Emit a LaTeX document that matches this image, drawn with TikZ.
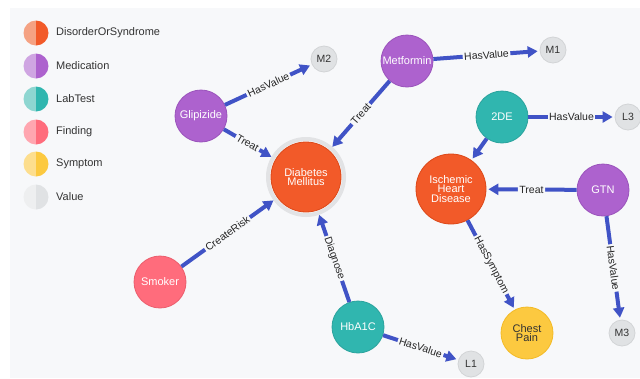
\documentclass[tikz,border=0pt]{standalone}
\usepackage{fontspec}
\setmainfont{Liberation Sans}
\usetikzlibrary{arrows.meta}
\definecolor{bg}{HTML}{F7F8FA}
\definecolor{cDis}{HTML}{F25A29}\definecolor{cDisB}{HTML}{DC4717}\definecolor{cDisL}{HTML}{F5A283}
\definecolor{cMed}{HTML}{AD62CE}\definecolor{cMedB}{HTML}{9A53BB}\definecolor{cMedL}{HTML}{CFA5E2}
\definecolor{cLab}{HTML}{30B6AF}\definecolor{cLabB}{HTML}{2AA39D}\definecolor{cLabL}{HTML}{8ED6D1}
\definecolor{cFin}{HTML}{FF6C7C}\definecolor{cFinB}{HTML}{EB5D6C}\definecolor{cFinL}{HTML}{FFA6B0}
\definecolor{cSym}{HTML}{FCC940}\definecolor{cSymB}{HTML}{F3BA25}\definecolor{cSymL}{HTML}{FDDE8E}
\definecolor{cVal}{HTML}{E0E2E4}\definecolor{cValB}{HTML}{D2D4D6}\definecolor{cValL}{HTML}{EEEFF0}
\definecolor{cEdge}{HTML}{4053C6}
\definecolor{cHalo}{HTML}{E2E3E5}
\definecolor{cTxt}{HTML}{333333}
\begin{document}
\begin{tikzpicture}[x=1pt,y=-1pt,
  ent/.style={circle, inner sep=0pt, minimum size=52pt, line width=0.8pt, text=white, align=center,
    font=\fontsize{11}{9.5}\selectfont},
  dis/.style={ent, fill=cDis, draw=cDisB, minimum size=70pt},
  med/.style={ent, fill=cMed, draw=cMedB},
  lab/.style={ent, fill=cLab, draw=cLabB},
  fin/.style={ent, fill=cFin, draw=cFinB},
  sym/.style={ent, fill=cSym, draw=cSymB, text=cTxt},
  val/.style={ent, fill=cVal, draw=cValB, minimum size=26pt, text=cTxt, font=\fontsize{10.5}{12}\selectfont},
  edge/.style={draw=cEdge, line width=4pt, -{Triangle[length=10pt,width=11pt]}, shorten >=2pt},
  lbl/.style={sloped, midway, fill=bg, inner sep=1.5pt, text=black!85, font=\fontsize{10.5}{12}\selectfont},
  legtxt/.style={anchor=west, inner sep=0pt, text=cTxt, font=\fontsize{11}{12}\selectfont}
]
\useasboundingbox (0,0) rectangle (640,378);
\fill[white] (0,0) rectangle (640,378);
\fill[bg] (10,8) rectangle (640,378);

% legend
\foreach \y/\c/\t [count=\i] in {33/Dis/DisorderOrSyndrome, 66/Med/Medication, 99/Lab/LabTest, 132/Fin/Finding, 164/Sym/Symptom, 197/Val/Value}{
  \begin{scope}
    \clip (36,\y) circle[radius=12.5pt];
    \fill[c\c L] (22,\y-14) rectangle (36,\y+14);
    \fill[c\c] (36,\y-14) rectangle (50,\y+14);
  \end{scope}
  \node[legtxt] (leg\i) at (56,\y) {\t};
}

% nodes
\node[circle, minimum size=76pt, draw=cHalo, line width=4pt, fill=white!60!bg] (dmh) at (306,177) {};
\node[dis] (dm) at (306,177) {Diabetes\\Mellitus};
\node[dis] (ihd) at (451,189) {Ischemic\\Heart\\Disease};
\node[med] (glip) at (201,116) {Glipizide};
\node[med] (metf) at (407,61) {Metformin};
\node[med] (gtn) at (603,190) {GTN};
\node[lab] (de2) at (502,117) {2DE};
\node[lab] (hba) at (358,327) {HbA1C};
\node[fin] (smk) at (160,282) {Smoker};
\node[sym] (cp) at (527,333) {Chest\\Pain};
\node[val] (m2) at (324,59) {M2};
\node[val] (m1) at (553,50) {M1};
\node[val] (l3) at (628,117) {L3};
\node[val] (l1) at (471,364) {L1};
\node[val] (m3) at (622,333) {M3};

% edges
\draw[edge] (glip) -- node[lbl] {HasValue} (m2);
\draw[edge, shorten >=0pt] (glip) -- node[lbl] {Treat} (dmh);
\draw[edge, shorten >=0pt] (metf) -- node[lbl] {Treat} (dmh);
\draw[edge] (metf) -- node[lbl] {HasValue} (m1);
\draw[edge] (de2) -- node[lbl] {HasValue} (l3);
\draw[edge] (de2) -- (ihd);
\draw[edge] (gtn) -- node[lbl] {Treat} (ihd);
\draw[edge] (gtn) -- node[lbl] {HasValue} (m3);
\draw[edge] (ihd) -- node[lbl] {HasSymptom} (cp);
\draw[edge, shorten >=0pt] (smk) -- node[lbl] {CreateRisk} (dmh);
\draw[edge, shorten >=0pt] (hba) -- node[lbl] {Diagnose} (dmh);
\draw[edge] (hba) -- node[lbl] {HasValue} (l1);
\end{tikzpicture}
\end{document}
